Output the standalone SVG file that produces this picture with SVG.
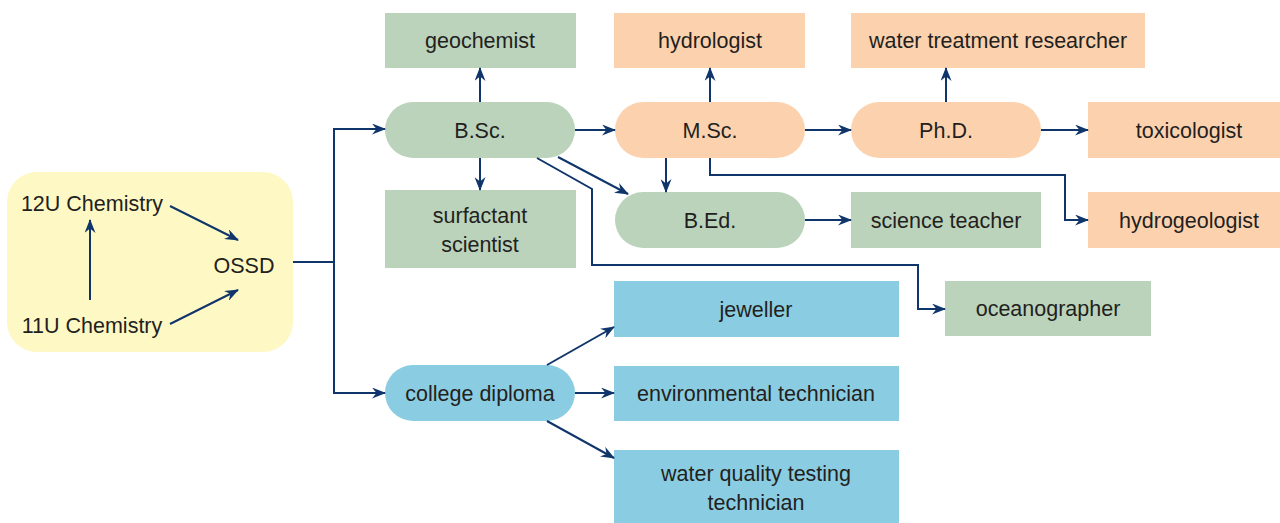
<svg xmlns="http://www.w3.org/2000/svg" width="1280" height="523" viewBox="0 0 1280 523">
<style>
text{font-family:"Liberation Sans",Arial,sans-serif;font-size:21.5px;fill:#231f20;text-anchor:middle}
.g{fill:#bbd3bb}.o{fill:#fcd2ae}.b{fill:#8acde2}.y{fill:#fef8c4}
.c path,.c line,.c polyline{stroke:#0f356b;stroke-width:2;fill:none}
</style>
<defs>
<marker id="ah" viewBox="0 0 14 11" refX="13" refY="5.5" markerWidth="14" markerHeight="11" markerUnits="userSpaceOnUse" orient="auto">
<path d="M0,0 L14,5.5 L0,11 L4.5,5.5 z" fill="#0f356b"/>
</marker>
</defs>
<g id="start">
<rect class="y" x="7" y="172" width="286" height="180" rx="30"/>
<text x="92" y="211">12U Chemistry</text>
<text x="92" y="333">11U Chemistry</text>
<text x="244" y="273">OSSD</text>
</g>
<g id="bsc"><rect class="g" x="385" y="102" width="190" height="56" rx="28"/><text x="480" y="138">B.Sc.</text></g>
<g id="geochemist"><rect class="g" x="385" y="13" width="191" height="55"/><text x="480" y="48">geochemist</text></g>
<g id="surfactant"><rect class="g" x="385" y="190" width="191" height="78"/><text x="480" y="223">surfactant</text><text x="480" y="252">scientist</text></g>
<g id="msc"><rect class="o" x="615" y="102" width="190" height="56" rx="28"/><text x="710" y="138">M.Sc.</text></g>
<g id="hydrologist"><rect class="o" x="614" y="13" width="191" height="55"/><text x="710" y="48">hydrologist</text></g>
<g id="phd"><rect class="o" x="851" y="102" width="190" height="56" rx="28"/><text x="946" y="138">Ph.D.</text></g>
<g id="wtr"><rect class="o" x="851" y="13" width="294" height="55"/><text x="998" y="48">water treatment researcher</text></g>
<g id="toxicologist"><rect class="o" x="1088" y="102" width="192" height="56"/><text x="1189" y="138">toxicologist</text></g>
<g id="bed"><rect class="g" x="615" y="192" width="190" height="56" rx="28"/><text x="710" y="228">B.Ed.</text></g>
<g id="teacher"><rect class="g" x="851" y="192" width="190" height="56"/><text x="946" y="228">science teacher</text></g>
<g id="hydrogeologist"><rect class="o" x="1088" y="192" width="192" height="56"/><text x="1189" y="228">hydrogeologist</text></g>
<g id="oceanographer"><rect class="g" x="945" y="281" width="206" height="55"/><text x="1048" y="316">oceanographer</text></g>
<g id="college"><rect class="b" x="385" y="365" width="190" height="56" rx="28"/><text x="480" y="401">college diploma</text></g>
<g id="jeweller"><rect class="b" x="614" y="281" width="285" height="56"/><text x="756" y="317">jeweller</text></g>
<g id="envtech"><rect class="b" x="614" y="366" width="285" height="55"/><text x="756" y="401">environmental technician</text></g>
<g id="wqt"><rect class="b" x="614" y="450" width="285" height="73"/><text x="756" y="481">water quality testing</text><text x="756" y="510">technician</text></g>
<g class="c" id="connectors">
<line x1="90" y1="300" x2="90" y2="220" marker-end="url(#ah)"/>
<line x1="170" y1="206" x2="238" y2="240" marker-end="url(#ah)"/>
<line x1="170" y1="324" x2="238" y2="290" marker-end="url(#ah)"/>
<polyline points="293,262 334,262"/>
<polyline points="334,262 334,129 385,129" marker-end="url(#ah)"/>
<polyline points="334,262 334,393 385,393" marker-end="url(#ah)"/>
<line x1="480" y1="102" x2="480" y2="68" marker-end="url(#ah)"/>
<line x1="480" y1="158" x2="480" y2="190" marker-end="url(#ah)"/>
<line x1="575" y1="130" x2="615" y2="130" marker-end="url(#ah)"/>
<line x1="805" y1="130" x2="851" y2="130" marker-end="url(#ah)"/>
<line x1="1041" y1="130" x2="1088" y2="130" marker-end="url(#ah)"/>
<line x1="710" y1="102" x2="710" y2="68" marker-end="url(#ah)"/>
<line x1="946" y1="102" x2="946" y2="68" marker-end="url(#ah)"/>
<line x1="666" y1="158" x2="666" y2="192" marker-end="url(#ah)"/>
<polyline points="710,158 710,175 1065,175 1065,220 1088,220" marker-end="url(#ah)"/>
<line x1="805" y1="220" x2="851" y2="220" marker-end="url(#ah)"/>
<line x1="558" y1="157" x2="628" y2="194" marker-end="url(#ah)"/>
<polyline points="537,158 592,189 592,265 918,265 918,309 945,309" marker-end="url(#ah)"/>
<line x1="547" y1="365" x2="614" y2="327" marker-end="url(#ah)"/>
<line x1="575" y1="393" x2="614" y2="393" marker-end="url(#ah)"/>
<line x1="547" y1="421" x2="614" y2="458" marker-end="url(#ah)"/>
</g>
</svg>
